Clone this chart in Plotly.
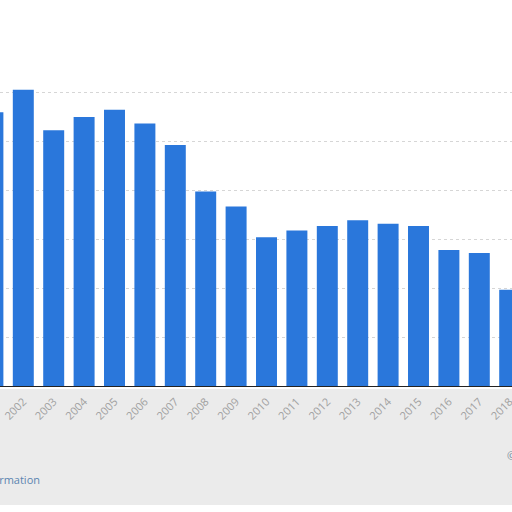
import plotly.graph_objects as go

years = list(range(2001, 2019))
values = [56.0, 60.6, 52.3, 55.0, 56.5, 53.7, 49.3, 39.8, 36.7, 30.4, 31.8, 32.7,
          33.9, 33.2, 32.7, 27.8, 27.2, 19.7]
tick_labels = [str(y) for y in years]
grid_vals = [10, 20, 30, 40, 50, 60]

W, H = 512, 512
base_px = 386
px_per_unit = 4.89
pitch = 30.4
x2002_px = 23.3

fig = go.Figure(go.Bar(
    x=years, y=values, marker_color="#2a77db", marker_line_width=0,
    width=0.69, hoverinfo="skip"))

x0 = 2002 - x2002_px / pitch
x1 = 2002 + (W - x2002_px) / pitch

def py(px):
    return (base_px - px) / base_px

fig.update_layout(
    width=W, height=H,
    margin=dict(l=0, r=0, t=0, b=H - base_px, pad=0),
    paper_bgcolor="white", plot_bgcolor="white",
    showlegend=False,
    xaxis=dict(range=[x0, x1], tickvals=years, ticktext=tick_labels,
               tickangle=-45, tickfont=dict(family="Open Sans", size=11, color="#a0a0a0"),
               showgrid=False, showline=True, linecolor="#222", linewidth=1,
               ticks="outside", ticklen=4, tickcolor="rgba(0,0,0,0)",
               zeroline=False, automargin=False, ticklabeloverflow="allow"),
    yaxis=dict(range=[0, base_px / px_per_unit], tickvals=grid_vals,
               showticklabels=False, showgrid=True, gridcolor="#d6d6d6",
               griddash="dot", gridwidth=1, zeroline=False, showline=False,
               automargin=False),
    shapes=[dict(type="rect", xref="paper", yref="paper", x0=0, x1=1,
                 y0=py(505), y1=py(389),
                 fillcolor="#ebebeb", line_width=0, layer="below")],
    annotations=[
        dict(text="Additional Information", xref="paper", yref="paper",
             x=42 / W, y=py(479), xanchor="right", yanchor="middle",
             showarrow=False, font=dict(family="Open Sans", size=11, color="#5b85b0")),
        dict(text="© Statista 2019", xref="paper", yref="paper",
             x=505 / W, y=py(455), xanchor="left", yanchor="middle",
             showarrow=False, font=dict(family="Open Sans", size=11, color="#7a8a9a")),
    ],
)

fig.write_html("out.html", config={"displayModeBar": False},
               post_script="document.body.style.margin='0px';document.body.style.overflow='hidden';")
